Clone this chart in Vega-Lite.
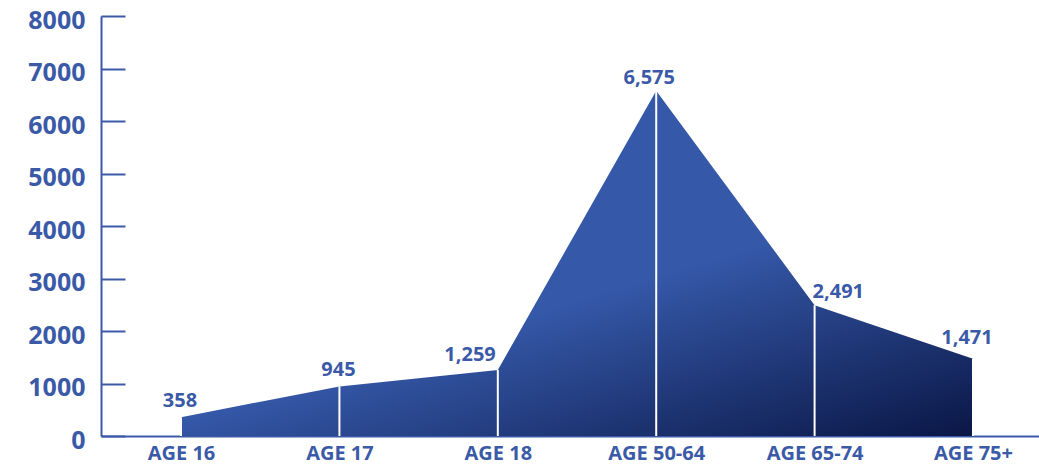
{
  "$schema": "https://vega.github.io/schema/vega-lite/v6.json",
  "autosize": "none",
  "width": 938,
  "height": 420,
  "padding": {"left": 101, "top": 16, "right": 0, "bottom": 32},
  "background": "white",
  "data": {
    "values": [
      {"age": "AGE 16", "count": 358},
      {"age": "AGE 17", "count": 945},
      {"age": "AGE 18", "count": 1259},
      {"age": "AGE 50-64", "count": 6575},
      {"age": "AGE 65-74", "count": 2491},
      {"age": "AGE 75+", "count": 1471}
    ]
  },
  "config": {
    "view": {"stroke": null},
    "font": "Open Sans",
    "text": {"font": "Open Sans", "fontWeight": "bold", "fontSize": 20, "color": "#3a5aa8", "baseline": "alphabetic"}
  },
  "encoding": {
    "x": {
      "field": "age",
      "type": "ordinal",
      "sort": null,
      "scale": {"type": "point", "padding": 0.461, "align": 0.548},
      "axis": {
        "title": null,
        "labelAngle": 0,
        "ticks": false,
        "domainColor": "#3a5aa8",
        "domainWidth": 2,
        "labelFont": "Open Sans",
        "labelFontWeight": "bold",
        "labelFontSize": 20,
        "labelColor": "#3a5aa8",
        "labelPadding": 7
      }
    },
    "y": {
      "field": "count",
      "type": "quantitative",
      "scale": {"domain": [0, 8000], "nice": false},
      "axis": {
        "title": null,
        "values": [0, 1000, 2000, 3000, 4000, 5000, 6000, 7000, 8000],
        "format": "d",
        "grid": false,
        "domainColor": "#3a5aa8",
        "domainWidth": 2,
        "tickColor": "#3a5aa8",
        "tickWidth": 2,
        "tickSize": -24,
        "labelPadding": 40,
        "labelOffset": 4,
        "labelFont": "Open Sans",
        "labelFontWeight": "bold",
        "labelFontSize": 25,
        "labelColor": "#3a5aa8"
      }
    }
  },
  "layer": [
    {
      "mark": {
        "type": "area",
        "interpolate": "linear",
        "color": {
          "gradient": "linear",
          "x1": 0.58, "y1": 0.55, "x2": 0.92, "y2": 1.04,
          "stops": [
            {"offset": 0, "color": "#3558a8"},
            {"offset": 1, "color": "#0b1848"}
          ]
        }
      }
    },
    {
      "mark": {"type": "rule", "color": "white", "strokeWidth": 2},
      "encoding": {"y2": {"datum": 0}}
    },
    {
      "transform": [{"filter": "datum.age === 'AGE 16' || datum.age === 'AGE 17'"}],
      "mark": {"type": "text", "dy": -10, "dx": -1},
      "encoding": {"text": {"field": "count", "type": "quantitative", "format": ","}}
    },
    {
      "transform": [{"filter": "datum.age === 'AGE 18'"}],
      "mark": {"type": "text", "align": "right", "dx": -2, "dy": -9},
      "encoding": {"text": {"field": "count", "type": "quantitative", "format": ","}}
    },
    {
      "transform": [{"filter": "datum.age === 'AGE 50-64'"}],
      "mark": {"type": "text", "dx": -7, "dy": -7},
      "encoding": {"text": {"field": "count", "type": "quantitative", "format": ","}}
    },
    {
      "transform": [{"filter": "datum.age === 'AGE 65-74'"}],
      "mark": {"type": "text", "align": "left", "dx": -2, "dy": -7},
      "encoding": {"text": {"field": "count", "type": "quantitative", "format": ","}}
    },
    {
      "transform": [{"filter": "datum.age === 'AGE 75+'"}],
      "mark": {"type": "text", "dx": -6, "dy": -15},
      "encoding": {"text": {"field": "count", "type": "quantitative", "format": ","}}
    }
  ]
}
